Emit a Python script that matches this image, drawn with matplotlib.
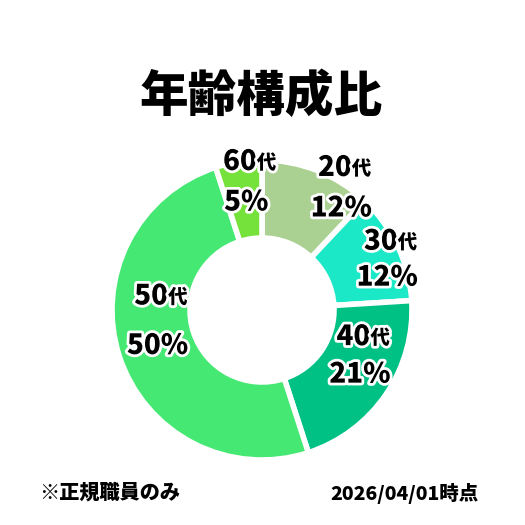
import matplotlib
matplotlib.use("Agg")
import matplotlib.pyplot as plt
import matplotlib.patheffects as pe
import numpy as np

plt.rcParams['font.family'] = ['Noto Sans CJK JP', 'DejaVu Sans']

title = "年齢構成比"
categories = ["20代", "30代", "40代", "50代", "60代"]
numbers = ["20", "30", "40", "50", "60"]
values = [12, 12, 21, 50, 5]
colors = ["#aad191", "#1ae8c6", "#00c184", "#45e873", "#74e23a"]
note_left = "※正規職員のみ"
note_right = "2026/04/01時点"

fig = plt.figure(figsize=(5.25, 5.25), dpi=100)
R_px = 150
cx, cy = 262, 310
ax = fig.add_axes([(cx - R_px) / 525, (525 - cy - R_px) / 525, 2 * R_px / 525, 2 * R_px / 525])
wedges, _ = ax.pie(values, colors=colors, startangle=90, counterclock=False,
                   radius=1.0, wedgeprops=dict(width=0.52, edgecolor="white", linewidth=4))
ax.set_xlim(-1, 1)
ax.set_ylim(-1, 1)
ax.set_aspect('equal')
ax.axis('off')

stroke = [pe.withStroke(linewidth=4, foreground="white")]
# label placement: (radius, angle deg, half line gap)
label_pos = [(0.97, 57, 0.135), (0.9, 22, 0.12), (0.72, -25, 0.125), (0.7, 186, 0.165), (0.86, 97, 0.135)]
for (r, ang, dy), num, val in zip(label_pos, numbers, values):
    x = r * np.cos(np.radians(ang))
    y = r * np.sin(np.radians(ang))
    ax.text(x + 0.07, y + dy, num, ha='right', va='center', fontsize=20,
            fontweight='black', path_effects=stroke, zorder=5)
    ax.text(x + 0.07, y + dy - 0.01, "代", ha='left', va='center', fontsize=14,
            fontweight='black', path_effects=stroke, zorder=5)
    ax.text(x, y - dy, f"{val}%", ha='center', va='center', fontsize=20,
            fontweight='black', path_effects=stroke, zorder=5)

fig.text(261 / 525, 1 - 97 / 525, title, ha='center', va='center', fontsize=35, fontweight='black')
fig.text(39 / 525, 1 - 493 / 525, note_left, ha='left', va='center', fontsize=14.5, fontweight='black')
fig.text(479 / 525, 1 - 493 / 525, note_right, ha='right', va='center', fontsize=14, fontweight='black')

fig.savefig("out.png", dpi=100, facecolor="white")
